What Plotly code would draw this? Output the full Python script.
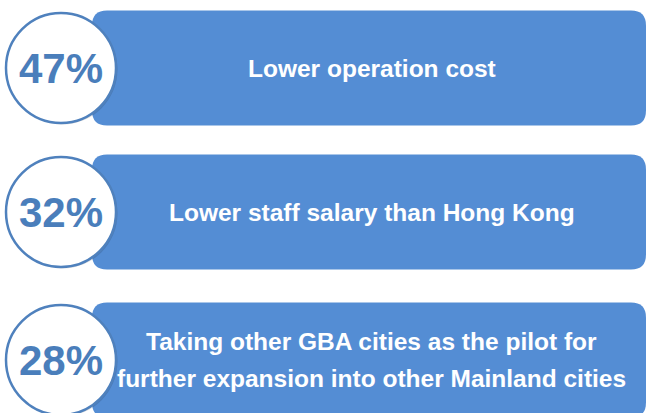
import plotly.graph_objects as go

# 항목별 값 / 설명
percents = ["47%", "32%", "28%"]
labels = [
    ["Lower operation cost"],
    ["Lower staff salary than Hong Kong"],
    ["Taking other GBA cities as the pilot for", "further expansion into other Mainland cities"],
]

W, H = 647, 413
ROW_CY = [68, 212, 360]      # row centre (px)
ROW_H = 115
RECT_X0, RECT_X1 = 92, 646
RADIUS = 15
CIRCLE_CX, CIRCLE_R = 61, 55
LINE_GAP = 37.5
TEXT_CX = 371.5
TEXT_SIZE = 24.5

RECT_COLOR = "#548DD4"
CIRCLE_LINE = "#4F81BD"
PCT_COLOR = "#4A7EBB"
FONT = "Liberation Sans, Arial, sans-serif"


def rounded_rect(x0, y0, x1, y1, r):
    return (
        f"M{x0 + r},{y0} L{x1 - r},{y0} Q{x1},{y0} {x1},{y0 + r} "
        f"L{x1},{y1 - r} Q{x1},{y1} {x1 - r},{y1} "
        f"L{x0 + r},{y1} Q{x0},{y1} {x0},{y1 - r} "
        f"L{x0},{y0 + r} Q{x0},{y0} {x0 + r},{y0} Z"
    )


fig = go.Figure()
shapes = []
annotations = []

for i, (pct, lines) in enumerate(zip(percents, labels)):
    cy = ROW_CY[i]
    y0, y1 = cy - ROW_H / 2, cy + ROW_H / 2

    shapes.append(dict(
        type="path", path=rounded_rect(RECT_X0, y0, RECT_X1, y1, RADIUS),
        fillcolor=RECT_COLOR, line=dict(width=0), layer="above",
    ))
    # 약한 그림자
    shapes.append(dict(
        type="circle",
        x0=CIRCLE_CX - CIRCLE_R + 1.5, x1=CIRCLE_CX + CIRCLE_R + 1.5,
        y0=cy - CIRCLE_R + 1.5, y1=cy + CIRCLE_R + 1.5,
        fillcolor="rgba(0,0,0,0.12)", line=dict(width=0), layer="above",
    ))
    shapes.append(dict(
        type="circle",
        x0=CIRCLE_CX - CIRCLE_R, x1=CIRCLE_CX + CIRCLE_R,
        y0=cy - CIRCLE_R, y1=cy + CIRCLE_R,
        fillcolor="white", line=dict(color=CIRCLE_LINE, width=2.5), layer="above",
    ))

    annotations.append(dict(
        x=CIRCLE_CX, y=cy, text=f"<b>{pct}</b>", showarrow=False,
        xanchor="center", yanchor="middle",
        font=dict(family=FONT, size=42, color=PCT_COLOR),
    ))

    n = len(lines)
    for j, line in enumerate(lines):
        ly = cy + (j - (n - 1) / 2) * LINE_GAP
        annotations.append(dict(
            x=TEXT_CX, y=ly, text=f"<b>{line}</b>", showarrow=False,
            xanchor="center", yanchor="middle",
            font=dict(family=FONT, size=TEXT_SIZE, color="white"),
        ))

fig.update_layout(
    width=W, height=H,
    margin=dict(l=0, r=0, t=0, b=0),
    paper_bgcolor="white", plot_bgcolor="white",
    shapes=shapes, annotations=annotations,
    showlegend=False,
)
fig.update_xaxes(range=[0, W], visible=False, fixedrange=True)
fig.update_yaxes(range=[H, 0], visible=False, fixedrange=True)

fig.write_html(
    "out.html",
    config={"displayModeBar": False},
    post_script="document.body.style.margin='0';document.body.style.overflow='hidden';",
)
